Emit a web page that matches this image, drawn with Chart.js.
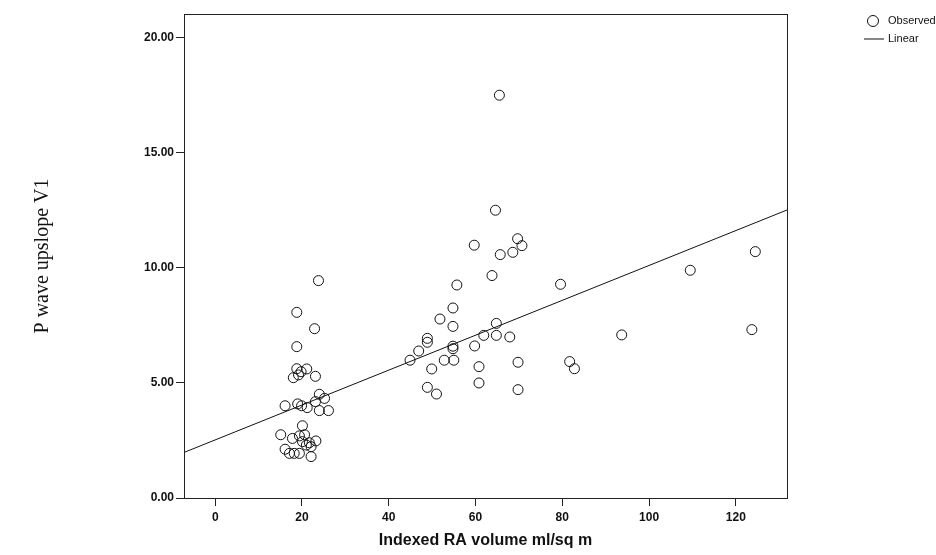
<!DOCTYPE html>
<html>
<head>
<meta charset="utf-8">
<script src="https://cdn.jsdelivr.net/npm/chart.js@4.4.1/dist/chart.umd.min.js"></script>
<style>
  html, body { margin: 0; padding: 0; background: #fff; }
  #wrap { position: relative; width: 936px; height: 555px; }
  canvas { display: block; }
  .leg { position: absolute; font-family: "Liberation Sans", Arial, sans-serif; font-size: 11px; color: #111; line-height: 13px; }
</style>
</head>
<body>
<div id="wrap">
  <canvas id="c" width="936" height="555"></canvas>
  <div class="leg" style="left:864px; top:14px;">
    <svg width="20" height="14" style="vertical-align:middle"><circle cx="9" cy="7" r="5.5" fill="none" stroke="#111" stroke-width="1"/></svg><span style="margin-left:4px">Observed</span>
  </div>
  <div class="leg" style="left:864px; top:32px;">
    <svg width="20" height="14" style="vertical-align:middle"><line x1="0" y1="7" x2="20" y2="7" stroke="#111" stroke-width="1"/></svg><span style="margin-left:4px">Linear</span>
  </div>
</div>
<script>
const raVolume = [
  23.8, 18.8, 22.9, 18.8, 18.8, 21.1, 19.8, 18.0, 19.2, 23.1,
  24.0, 25.2, 23.1, 16.1, 19.0, 19.9, 21.2, 24.0, 26.1, 20.1,
  15.1, 17.8, 19.4, 20.6, 20.1, 21.7, 23.2, 22.1, 21.0, 16.1,
  17.1, 18.2, 19.4, 22.1,
  65.5, 64.6, 59.7, 69.7, 70.7, 65.7, 68.6, 63.8, 55.7, 79.6,
  54.8, 51.8, 54.8, 64.8, 48.9, 48.9, 46.9, 44.9, 54.8, 54.8,
  61.9, 64.8, 67.9, 59.8, 52.8, 55.0, 49.9, 60.8, 69.8, 48.9,
  51.0, 60.8, 69.8,
  109.5, 124.5, 93.7, 123.7, 81.7, 82.8
];
const pUpslope = [
  9.45, 8.07, 7.36, 6.58, 5.62, 5.61, 5.49, 5.23, 5.35, 5.29,
  4.51, 4.33, 4.19, 4.01, 4.09, 4.01, 3.93, 3.80, 3.80, 3.14,
  2.75, 2.59, 2.70, 2.75, 2.45, 2.40, 2.48, 2.23, 2.30, 2.12,
  1.94, 1.94, 1.94, 1.80,
  17.51, 12.51, 10.99, 11.27, 10.97, 10.58, 10.68, 9.67, 9.26, 9.29,
  8.26, 7.78, 7.46, 7.59, 6.94, 6.77, 6.39, 5.99, 6.60, 6.49,
  7.07, 7.07, 7.00, 6.61, 5.99, 5.99, 5.61, 5.71, 5.90, 4.81,
  4.52, 5.00, 4.71,
  9.90, 10.71, 7.09, 7.32, 5.93, 5.62
];
// Linear fit line endpoints (read at plot edges)
const fitX = [-7.2, 131.8];
const fitY = [1.98, 12.52];

const xTicks = [0, 20, 40, 60, 80, 100, 120];
const yTicks = [0, 5, 10, 15, 20];

const observed = raVolume.map((x, i) => ({ x: x, y: pUpslope[i] }));
const linear = fitX.map((x, i) => ({ x: x, y: fitY[i] }));

const frame = {
  id: 'frame',
  afterDraw(chart) {
    const { ctx, chartArea: a } = chart;
    ctx.save();
    ctx.strokeStyle = '#222';
    ctx.lineWidth = 1;
    ctx.strokeRect(Math.round(a.left) + 0.5, Math.round(a.top) + 0.5, Math.round(a.right - a.left), Math.round(a.bottom - a.top));
    ctx.restore();
  }
};

new Chart(document.getElementById('c'), {
  type: 'scatter',
  data: {
    datasets: [
      {
        label: 'Observed',
        data: observed,
        pointStyle: 'circle',
        pointRadius: 5,
        pointHoverRadius: 5,
        borderColor: '#111',
        backgroundColor: 'rgba(0,0,0,0)',
        borderWidth: 1,
        showLine: false
      },
      {
        label: 'Linear',
        type: 'line',
        data: linear,
        borderColor: '#111',
        borderWidth: 1,
        pointRadius: 0,
        fill: false,
        tension: 0
      }
    ]
  },
  options: {
    responsive: false,
    animation: false,
    events: [],
    layout: { padding: { left: 20, right: 149, top: 14, bottom: 0 } },
    plugins: { legend: { display: false }, tooltip: { enabled: false } },
    scales: {
      x: {
        type: 'linear',
        min: -7.2,
        max: 131.8,
        afterBuildTicks: s => { s.ticks = xTicks.map(v => ({ value: v })); },
        afterFit: s => { s.height = 57; },
        grid: { drawOnChartArea: false, drawTicks: true, tickLength: 8, color: '#222', tickColor: '#222' },
        border: { display: true, color: '#222', width: 1 },
        ticks: {
          color: '#111',
          padding: 4,
          font: { family: '"Liberation Sans", Arial, sans-serif', size: 12, weight: 'bold' },
          callback: v => String(v)
        },
        title: {
          display: true,
          text: 'Indexed RA volume ml/sq m',
          color: '#111',
          font: { family: '"Liberation Sans", Arial, sans-serif', size: 16, weight: 'bold' },
          padding: { top: 0, bottom: 5 }
        }
      },
      y: {
        type: 'linear',
        min: 0,
        max: 21.04,
        afterBuildTicks: s => { s.ticks = yTicks.map(v => ({ value: v })); },
        afterFit: s => { s.width = 164; },
        grid: { drawOnChartArea: false, drawTicks: true, tickLength: 8, color: '#222', tickColor: '#222' },
        border: { display: true, color: '#222', width: 1 },
        ticks: {
          color: '#111',
          padding: 2,
          font: { family: '"Liberation Sans", Arial, sans-serif', size: 12, weight: 'bold' },
          callback: v => Number(v).toFixed(2)
        },
        title: {
          display: true,
          text: 'P wave upslope V1',
          color: '#111',
          font: { family: '"Liberation Serif", "Times New Roman", serif', size: 20, weight: 'normal' },
          padding: { top: 11, bottom: 0 }
        }
      }
    }
  },
  plugins: [frame]
});
</script>
</body>
</html>
